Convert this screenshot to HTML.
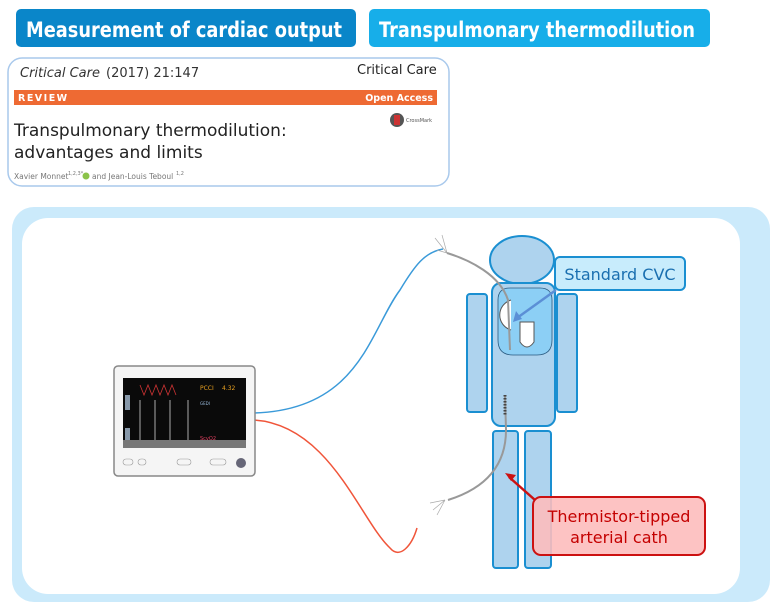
<!DOCTYPE html>
<html><head><meta charset="utf-8"><style>
body{margin:0;width:782px;height:604px;background:#fff;overflow:hidden;font-family:"Liberation Sans","DejaVu Sans",sans-serif}
</style></head><body>
<svg width="782" height="604" viewBox="0 0 782 604" xmlns="http://www.w3.org/2000/svg" font-family="DejaVu Sans, Liberation Sans, sans-serif">
<!-- header buttons -->
<rect x="16" y="9" width="340" height="38" rx="5" fill="#0a86c9"/>
<text x="26" y="37" font-size="21" font-weight="bold" fill="#fff" textLength="316" lengthAdjust="spacingAndGlyphs">Measurement of cardiac output</text>
<rect x="369" y="9" width="341" height="38" rx="5" fill="#17aee9"/>
<text x="379" y="37" font-size="21" font-weight="bold" fill="#fff" textLength="316" lengthAdjust="spacingAndGlyphs">Transpulmonary thermodilution</text>
<!-- article card -->
<rect x="8" y="58" width="441" height="128" rx="14" fill="#fff" stroke="#a9c9ec" stroke-width="1.5"/>
<text x="20" y="77" font-size="13" font-style="italic" fill="#333">Critical Care</text>
<text x="106" y="77" font-size="13" fill="#333">(2017) 21:147</text>
<text x="357" y="74" font-size="13" fill="#222">Critical Care</text>
<rect x="14" y="90" width="423" height="15" fill="#ee6a33"/>
<text x="18" y="101" font-size="9.5" font-weight="bold" fill="#fff" letter-spacing="1.5">REVIEW</text>
<text x="433" y="101" font-size="9.5" font-weight="bold" fill="#fff" text-anchor="end">Open Access</text>
<circle cx="397" cy="120" r="7" fill="#555"/><rect x="394" y="115" width="6" height="10" fill="#c33"/>
<text x="406" y="122" font-size="5" fill="#555">CrossMark</text>
<text x="14" y="136" font-size="17" fill="#222">Transpulmonary thermodilution:</text>
<text x="14" y="158" font-size="17" fill="#222">advantages and limits</text>
<text x="14" y="179" font-size="7.5" fill="#777">Xavier Monnet</text><text x="68" y="175" font-size="5" fill="#777">1,2,3*</text>
<circle cx="86" cy="176" r="3.5" fill="#8bc34a"/>
<text x="92" y="179" font-size="7.5" fill="#777">and Jean-Louis Teboul</text><text x="176" y="175" font-size="5" fill="#777">1,2</text>
<!-- panel -->
<rect x="12" y="207" width="758" height="395" rx="22" fill="#cbeafb"/>
<rect x="22" y="218" width="718" height="376" rx="26" fill="#fff"/>
<!-- curves -->
<path d="M254 413 C360 410 370 330 400 290 C415 265 425 252 443 249" fill="none" stroke="#3a9ad9" stroke-width="1.5"/>
<path d="M254 420 C330 425 360 520 390 548 C400 560 412 545 417 528" fill="none" stroke="#f0553a" stroke-width="1.5"/>
<!-- monitor -->
<rect x="114" y="366" width="141" height="110" rx="4" fill="#f5f5f5" stroke="#888" stroke-width="1.5"/>
<rect x="123" y="378" width="123" height="70" fill="#0a0a0a"/>
<path d="M140 385 l4 10 4-10 4 10 4-10 4 10 4-10 4 10 4-10 4 10" stroke="#c33" fill="none" stroke-width="0.8"/>
<rect x="125" y="395" width="5" height="15" fill="#8899aa"/><rect x="125" y="428" width="5" height="15" fill="#8899aa"/>
<line x1="140" y1="400" x2="140" y2="440" stroke="#aaa"/><line x1="155" y1="400" x2="155" y2="440" stroke="#aaa"/><line x1="170" y1="400" x2="170" y2="440" stroke="#aaa"/><line x1="188" y1="400" x2="188" y2="440" stroke="#aaa"/>
<text x="200" y="390" font-size="6" fill="#e8a020">PCCI</text><text x="222" y="390" font-size="6" fill="#e8a020">4.32</text>
<text x="200" y="405" font-size="4" fill="#99bbdd">GEDI</text><text x="200" y="440" font-size="5" fill="#e04060">ScvO2</text>
<rect x="123" y="440" width="123" height="8" fill="#777"/>
<rect x="123" y="459" width="10" height="6" rx="3" fill="none" stroke="#999" stroke-width="0.6"/>
<rect x="138" y="459" width="8" height="6" rx="3" fill="none" stroke="#999" stroke-width="0.6"/>
<rect x="177" y="459" width="14" height="6" rx="3" fill="none" stroke="#999" stroke-width="0.6"/>
<rect x="210" y="459" width="16" height="6" rx="3" fill="none" stroke="#999" stroke-width="0.6"/>
<circle cx="241" cy="463" r="5" fill="#667"/>
<!-- body -->
<g fill="#aed3ee" stroke="#1a8fd1" stroke-width="2">
<ellipse cx="522" cy="260" rx="32" ry="24"/>
<rect x="492" y="283" width="63" height="143" rx="9"/>
<rect x="467" y="294" width="20" height="118" rx="3"/>
<rect x="557" y="294" width="20" height="118" rx="3"/>
<rect x="493" y="431" width="25" height="137" rx="3"/>
<rect x="525" y="431" width="26" height="137" rx="3"/>
</g>
<path d="M498 300 q0 -12 12 -12 h30 q12 0 12 12 v40 q0 15 -15 15 h-24 q-15 0 -15 -15z" fill="#8ccff5" stroke="#2a5a80" stroke-width="0.8"/>
<path d="M511 300 c-15 5 -15 25 0 30 M520 322 h14 v20 q-7 10 -14 0z" fill="#fff" stroke="#555" stroke-width="1"/>
<path d="M447 253 C470 260 500 275 508 300 L510 350" fill="none" stroke="#999" stroke-width="2"/>
<path d="M447 253 l-12 -15 M447 253 l-5 -18 M447 253 l-10 -3" stroke="#aaa" stroke-width="0.7" fill="none"/>
<path d="M505 395 L506 430 C506 470 480 490 448 500" fill="none" stroke="#999" stroke-width="2"/>
<path d="M505 395 v20" stroke="#444" stroke-width="3" stroke-dasharray="1.5 1.5"/>
<path d="M445 500 l-15 3 M445 500 l-12 10 M445 500 l-8 15" stroke="#aaa" stroke-width="0.7" fill="none"/>
<!-- labels -->
<line x1="556" y1="290" x2="517" y2="318" stroke="#5b8fd6" stroke-width="2.5"/>
<path d="M513 322 l3 -11 6 8z" fill="#5b8fd6"/>
<rect x="555" y="257" width="130" height="33" rx="5" fill="#c8ecfc" stroke="#1a8fd1" stroke-width="2"/>
<text x="620" y="280" font-size="16" fill="#1a6fb0" text-anchor="middle">Standard CVC</text>
<line x1="535" y1="500" x2="509" y2="477" stroke="#cc1111" stroke-width="2.5"/>
<path d="M505 473 l11 2 -5 6z" fill="#cc1111"/>
<rect x="533" y="497" width="172" height="58" rx="8" fill="#fdbcbc" fill-opacity="0.9" stroke="#cc1111" stroke-width="2"/>
<text x="619" y="522" font-size="16" fill="#c40000" text-anchor="middle">Thermistor-tipped</text>
<text x="619" y="543" font-size="16" fill="#c40000" text-anchor="middle">arterial cath</text>
</svg>
</body></html>
